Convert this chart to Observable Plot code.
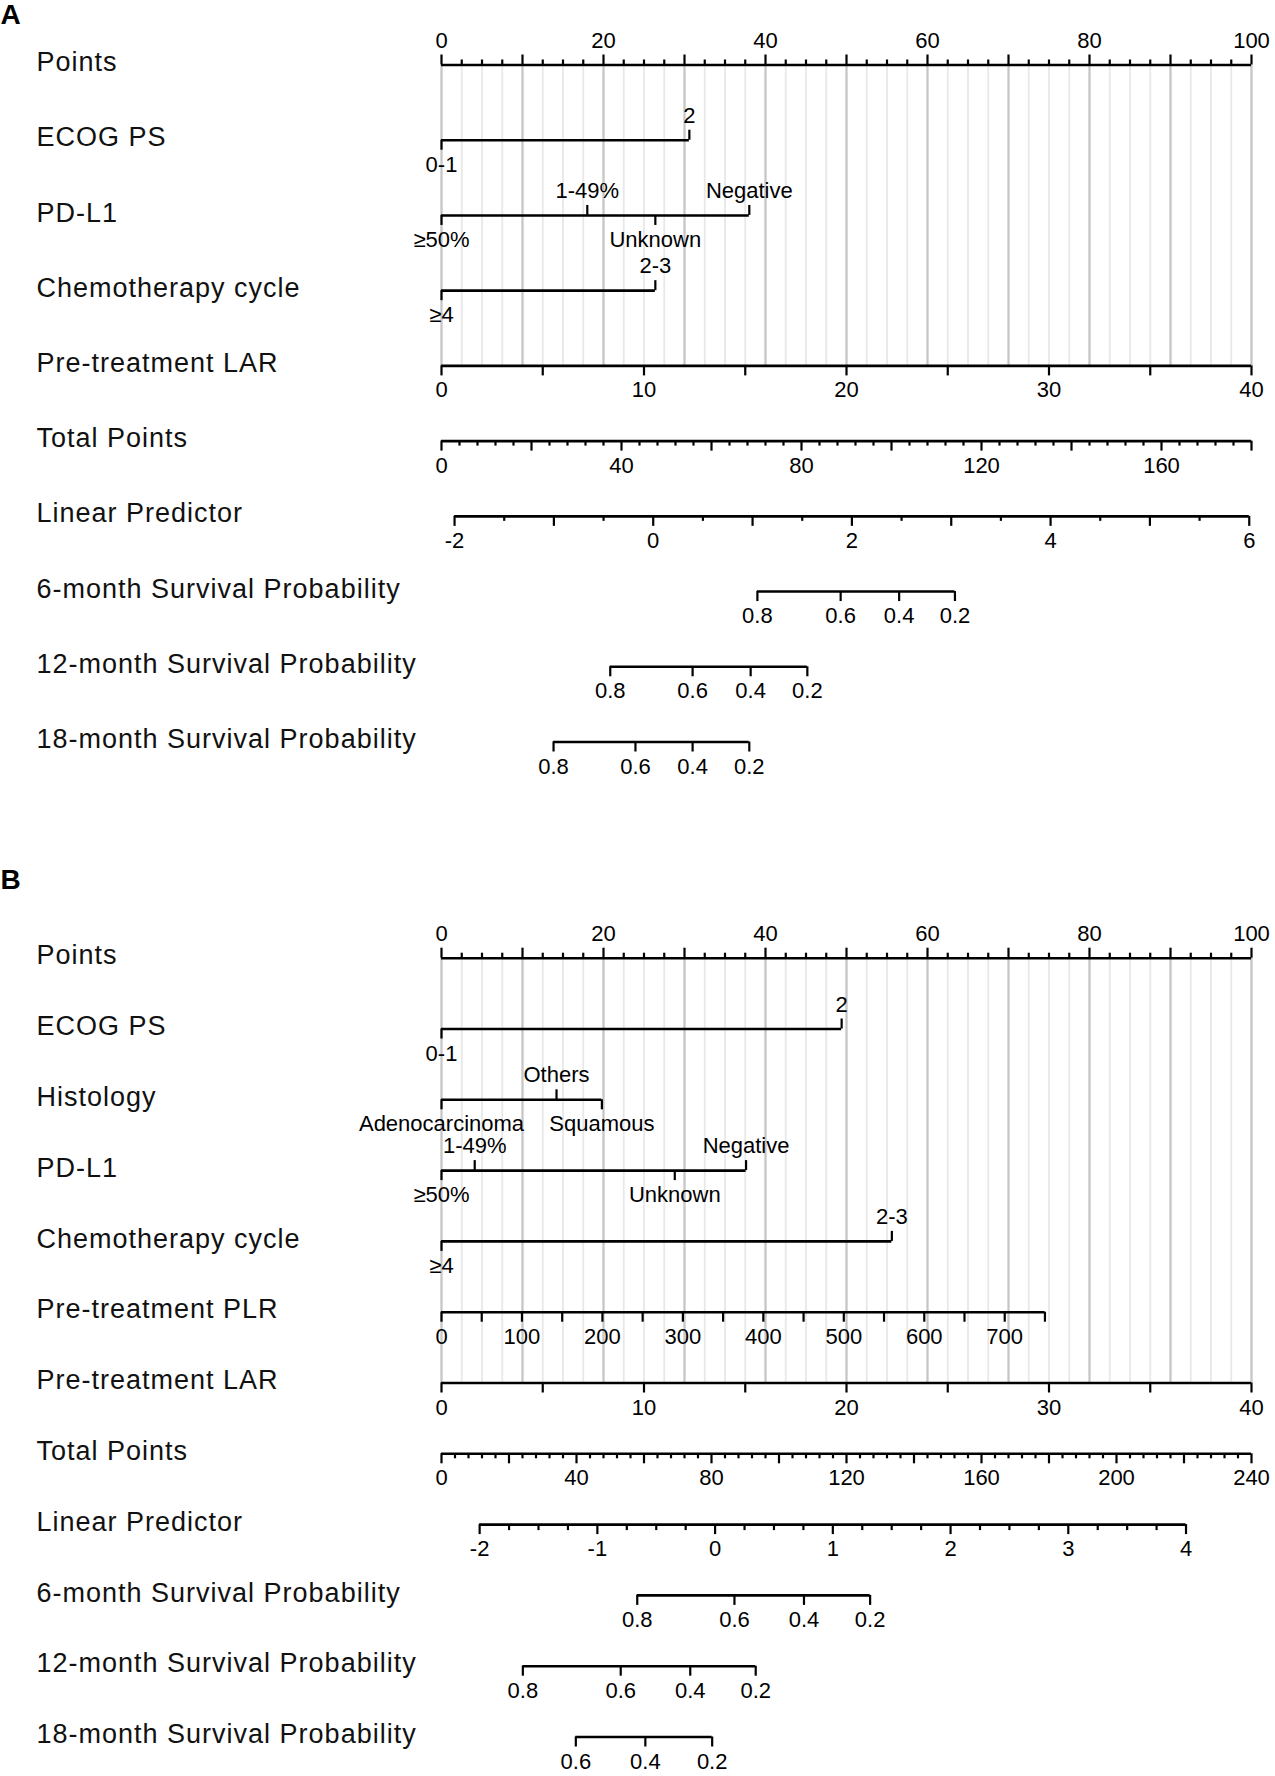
<!DOCTYPE html>
<html>
<head>
<meta charset="utf-8">
<script src="https://cdn.jsdelivr.net/npm/d3@7"></script>
<script src="https://cdn.jsdelivr.net/npm/@observablehq/plot@0.6"></script>
<style>
  html, body { margin: 0; padding: 0; background: #fff; }
  #chart svg { display: block; }
  g[font-size="27"] text { letter-spacing: 1px; }
</style>
</head>
<body>
<div id="chart"></div>
<script>
// ================= DATA: Panel A =================
const pointsLabels = [0, 20, 40, 60, 80, 100];

const aRows = ["Points", "ECOG PS", "PD-L1", "Chemotherapy cycle", "Pre-treatment LAR",
  "Total Points", "Linear Predictor", "6-month Survival Probability",
  "12-month Survival Probability", "18-month Survival Probability"];

const aEcogLevels = ["0-1", "2"];
const aEcogPoints = [0, 30.6];
const aPdl1Levels = ["≥50%", "1-49%", "Unknown", "Negative"];
const aPdl1Points = [0, 18.0, 26.4, 38.0];
const aChemoLevels = ["≥4", "2-3"];
const aChemoPoints = [0, 26.4];

const aLarRange = [0, 40];            // spans Points 0–100
const aLarLabels = [0, 10, 20, 30, 40];
const aTotalRange = [0, 180];         // spans Points 0–100
const aTotalLabels = [0, 40, 80, 120, 160];
const aLpRange = [-2, 6];
const aLpTotalAt = [2.9, 179.5];      // total points at LP ends
const aLpLabels = [-2, 0, 2, 4, 6];

const aSurvProbs = [0.8, 0.6, 0.4, 0.2];
const aSurv6Total = [70.2, 88.7, 101.7, 114.1];
const aSurv12Total = [37.5, 55.8, 68.7, 81.3];
const aSurv18Total = [24.9, 43.1, 55.8, 68.4];

// ================= DATA: Panel B =================
const bRows = ["Points", "ECOG PS", "Histology", "PD-L1", "Chemotherapy cycle",
  "Pre-treatment PLR", "Pre-treatment LAR", "Total Points", "Linear Predictor",
  "6-month Survival Probability", "12-month Survival Probability", "18-month Survival Probability"];

const bEcogLevels = ["0-1", "2"];
const bEcogPoints = [0, 49.4];
const bHistLevels = ["Adenocarcinoma", "Others", "Squamous"];
const bHistPoints = [0, 14.2, 19.8];
const bPdl1Levels = ["≥50%", "1-49%", "Unknown", "Negative"];
const bPdl1Points = [0, 4.1, 28.8, 37.6];
const bChemoLevels = ["≥4", "2-3"];
const bChemoPoints = [0, 55.6];

const bPlrRange = [0, 750];
const bPlrPointsAt = [0, 74.5];       // points at PLR ends
const bPlrLabels = [0, 100, 200, 300, 400, 500, 600, 700];
const bLarRange = [0, 40];
const bLarLabels = [0, 10, 20, 30, 40];
const bTotalRange = [0, 240];
const bTotalLabels = [0, 40, 80, 120, 160, 200, 240];
const bLpRange = [-2, 4];
const bLpTotalAt = [11.3, 220.6];
const bLpLabels = [-2, -1, 0, 1, 2, 3, 4];

const bSurv6Probs = [0.8, 0.6, 0.4, 0.2];
const bSurv6Total = [58.0, 86.8, 107.4, 127.0];
const bSurv12Probs = [0.8, 0.6, 0.4, 0.2];
const bSurv12Total = [24.1, 53.1, 73.7, 93.1];
const bSurv18Probs = [0.6, 0.4, 0.2];
const bSurv18Total = [39.8, 60.4, 80.2];

// ================= RENDERING =================
const FONT = "'Liberation Sans', Arial, Helvetica, sans-serif";
const W = 1275;
const X_RANGE = [441, 1251];
const LW = 2.6, TW = 2.2, FS = 22, LABEL_OFF = 24.5;

function linMap(d0, d1, r0, r1) {
  return v => r0 + (v - d0) / (d1 - d0) * (r1 - r0);
}

function lineMark(row, x1, x2) {
  return Plot.ruleY([{row, x1, x2}], {y: "row", x1: "x1", x2: "x2", stroke: "black", strokeWidth: LW});
}
function tickMarks(row, xs, len, up) {
  return Plot.ruleX(xs.map(x => ({row, x})), {
    x: "x", y1: "row", y2: "row",
    insetTop: up ? -len : 0, insetBottom: up ? 0 : -len,
    stroke: "black", strokeWidth: TW
  });
}
function labelMarks(row, xs, labels, up) {
  return Plot.text(xs.map((x, i) => ({row, x, label: String(labels[i])})), {
    x: "x", y: "row", text: "label", dy: up ? -LABEL_OFF : LABEL_OFF,
    fontSize: FS, fill: "black"
  });
}

function catRow(marks, row, levels, pts, sides) {
  marks.push(lineMark(row, d3.min(pts), d3.max(pts)));
  const upX = pts.filter((_, i) => sides[i] === "above");
  const upL = levels.filter((_, i) => sides[i] === "above");
  const dnX = pts.filter((_, i) => sides[i] !== "above");
  const dnL = levels.filter((_, i) => sides[i] !== "above");
  marks.push(tickMarks(row, upX, 10, true));
  marks.push(tickMarks(row, dnX, 10, false));
  marks.push(labelMarks(row, upX, upL, true));
  marks.push(labelMarks(row, dnX, dnL, false));
}

// groups: [{values, len}]
function contRow(marks, row, toPts, domain, groups, labels, labelText, up = false) {
  marks.push(lineMark(row, toPts(domain[0]), toPts(domain[1])));
  for (const g of groups) marks.push(tickMarks(row, g.values.map(toPts), g.len, up));
  marks.push(labelMarks(row, labels.map(toPts), labelText || labels, up));
}

function stepTicks(lo, hi, step) { return d3.range(lo, hi + step * 1e-6, step); }

function basePlot(p, marks) {
  const grid = stepTicks(0, 100, 2.5);
  const gridMarks = [
    Plot.ruleX(grid.filter(v => v % 10 !== 0), {x: d => d, y1: () => "Points", y2: () => p.gridEnd, stroke: "#e8e8e8", strokeWidth: 1.8}),
    Plot.ruleX(grid.filter(v => v % 10 === 0), {x: d => d, y1: () => "Points", y2: () => p.gridEnd, stroke: "#c6c6c6", strokeWidth: 2.3})
  ];
  const rowLabels = Plot.text(p.rows, {
    y: d => d, text: d => d, frameAnchor: "left", dx: 36, dy: -2.5,
    textAnchor: "start", lineAnchor: "middle", fontSize: 27, fill: "#111"
  });
  const letter = Plot.text([p.letter], {
    frameAnchor: "top-left", text: d => d, dx: 0, dy: p.letterY,
    textAnchor: "start", lineAnchor: "middle", fontSize: 28, fontWeight: "bold", fill: "black"
  });
  const pointsAxis = [
    lineMark("Points", 0, 100),
    tickMarks("Points", stepTicks(0, 100, 2.5).filter(v => v % 10 !== 0), 5, true),
    tickMarks("Points", stepTicks(0, 100, 10), 10, true),
    labelMarks("Points", pointsLabels, pointsLabels, true)
  ];
  return Plot.plot({
    width: W, height: p.height, margin: 0,
    x: {domain: [0, 100], range: X_RANGE, axis: null},
    y: {type: "point", domain: p.rows, range: p.yRange, padding: 0, round: false, axis: null},
    style: {fontFamily: FONT, background: "white", color: "black", overflow: "visible"},
    marks: [...gridMarks, rowLabels, letter, ...pointsAxis, ...marks]
  });
}

// ---------- Panel A ----------
{
  const m = [];
  catRow(m, "ECOG PS", aEcogLevels, aEcogPoints, ["below", "above"]);
  catRow(m, "PD-L1", aPdl1Levels, aPdl1Points, ["below", "above", "below", "above"]);
  catRow(m, "Chemotherapy cycle", aChemoLevels, aChemoPoints, ["below", "above"]);

  const lar = linMap(aLarRange[0], aLarRange[1], 0, 100);
  contRow(m, "Pre-treatment LAR", lar, aLarRange, [{values: stepTicks(0, 40, 5), len: 10}], aLarLabels);

  const tot = linMap(aTotalRange[0], aTotalRange[1], 0, 100);
  contRow(m, "Total Points", tot, aTotalRange, [
    {values: stepTicks(0, 180, 4).filter(v => v % 20 !== 0), len: 5},
    {values: stepTicks(0, 180, 20), len: 10}
  ], aTotalLabels);

  const lpTot = linMap(aLpRange[0], aLpRange[1], aLpTotalAt[0], aLpTotalAt[1]);
  const lp = v => tot(lpTot(v));
  contRow(m, "Linear Predictor", lp, aLpRange, [
    {values: stepTicks(-2, 6, 0.5).filter(v => !Number.isInteger(v)), len: 5},
    {values: stepTicks(-2, 6, 1), len: 10}
  ], aLpLabels);

  const survRow = (row, probs, totals) => {
    const xs = totals.map(tot);
    m.push(lineMark(row, d3.min(xs), d3.max(xs)));
    m.push(tickMarks(row, xs, 10, false));
    m.push(labelMarks(row, xs, probs, false));
  };
  survRow("6-month Survival Probability", aSurvProbs, aSurv6Total);
  survRow("12-month Survival Probability", aSurvProbs, aSurv12Total);
  survRow("18-month Survival Probability", aSurvProbs, aSurv18Total);

  document.getElementById("chart").appendChild(basePlot({
    rows: aRows, yRange: [64.5, 741.5], height: 800, letter: "A", letterY: 15,
    gridEnd: "Pre-treatment LAR"
  }, m));
}

// ---------- Panel B ----------
{
  const m = [];
  catRow(m, "ECOG PS", bEcogLevels, bEcogPoints, ["below", "above"]);
  catRow(m, "Histology", bHistLevels, bHistPoints, ["below", "above", "below"]);
  catRow(m, "PD-L1", bPdl1Levels, bPdl1Points, ["below", "above", "below", "above"]);
  catRow(m, "Chemotherapy cycle", bChemoLevels, bChemoPoints, ["below", "above"]);

  const plr = linMap(bPlrRange[0], bPlrRange[1], bPlrPointsAt[0], bPlrPointsAt[1]);
  contRow(m, "Pre-treatment PLR", plr, bPlrRange, [{values: stepTicks(0, 750, 50), len: 10}], bPlrLabels);

  const lar = linMap(bLarRange[0], bLarRange[1], 0, 100);
  contRow(m, "Pre-treatment LAR", lar, bLarRange, [{values: stepTicks(0, 40, 5), len: 10}], bLarLabels);

  const tot = linMap(bTotalRange[0], bTotalRange[1], 0, 100);
  contRow(m, "Total Points", tot, bTotalRange, [
    {values: stepTicks(0, 240, 4).filter(v => v % 20 !== 0), len: 5},
    {values: stepTicks(0, 240, 20), len: 10}
  ], bTotalLabels);

  const lpTot = linMap(bLpRange[0], bLpRange[1], bLpTotalAt[0], bLpTotalAt[1]);
  const lp = v => tot(lpTot(v));
  contRow(m, "Linear Predictor", lp, bLpRange, [
    {values: stepTicks(-2, 4, 0.25).filter(v => !Number.isInteger(v)), len: 6},
    {values: stepTicks(-2, 4, 1), len: 10}
  ], bLpLabels);

  const survRow = (row, probs, totals) => {
    const xs = totals.map(tot);
    m.push(lineMark(row, d3.min(xs), d3.max(xs)));
    m.push(tickMarks(row, xs, 10, false));
    m.push(labelMarks(row, xs, probs, false));
  };
  survRow("6-month Survival Probability", bSurv6Probs, bSurv6Total);
  survRow("12-month Survival Probability", bSurv12Probs, bSurv12Total);
  survRow("18-month Survival Probability", bSurv18Probs, bSurv18Total);

  document.getElementById("chart").appendChild(basePlot({
    rows: bRows, yRange: [157.7, 936.5], height: 976, letter: "B", letterY: 80,
    gridEnd: "Pre-treatment LAR"
  }, m));
}
</script>
</body>
</html>
